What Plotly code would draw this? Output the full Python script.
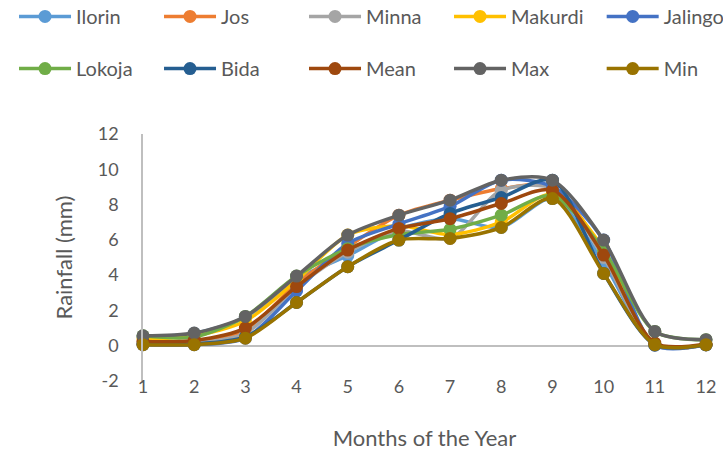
import plotly.graph_objects as go

months = [1, 2, 3, 4, 5, 6, 7, 8, 9, 10, 11, 12]
month_labels = ["1", "2", "3", "4", "5", "6", "7", "8", "9", "10", "11", "12"]
y_ticks = [-2, 0, 2, 4, 6, 8, 10, 12]
y_tick_labels = ["-2", "0", "2", "4", "6", "8", "10", "12"]

ilorin  = [0.50, 0.70, 1.60, 3.80, 5.10, 6.60, 7.20, 6.70, 8.34, 4.70, 0.05, 0.06]
jos     = [0.10, 0.20, 0.90, 3.50, 5.60, 7.40, 8.25, 8.90, 9.00, 5.30, 0.05, 0.06]
minna   = [0.20, 0.15, 0.70, 3.30, 5.30, 6.50, 6.08, 8.80, 8.90, 5.00, 0.04, 0.05]
makurdi = [0.40, 0.55, 1.40, 3.70, 6.27, 6.80, 6.30, 7.00, 8.60, 5.50, 0.05, 0.06]
jalingo = [0.06, 0.06, 0.43, 3.10, 5.80, 6.90, 7.90, 9.38, 9.00, 5.99, 0.03, 0.05]
lokoja  = [0.56, 0.50, 1.66, 3.95, 5.50, 6.30, 6.60, 7.40, 8.50, 5.40, 0.81, 0.34]
bida    = [0.10, 0.10, 0.50, 2.45, 4.48, 5.99, 7.50, 8.40, 9.38, 4.10, 0.06, 0.06]
mean_v  = [0.24, 0.30, 1.00, 3.35, 5.42, 6.65, 7.20, 8.06, 8.81, 5.14, 0.15, 0.10]
max_v   = [0.56, 0.72, 1.66, 3.95, 6.27, 7.40, 8.25, 9.38, 9.38, 5.99, 0.81, 0.34]
min_v   = [0.06, 0.06, 0.43, 2.45, 4.48, 5.99, 6.08, 6.70, 8.34, 4.10, 0.06, 0.06]

# (name, values, colour, legend id)  -- legend ids only place the legend rows
series = [
    ("Ilorin", ilorin, "#5B9BD5", "legend"),
    ("Jos", jos, "#ED7D31", "legend"),
    ("Minna", minna, "#A5A5A5", "legend"),
    ("Makurdi", makurdi, "#FFC000", "legend"),
    ("Jalingo", jalingo, "#4472C4", "legend3"),
    ("Lokoja", lokoja, "#70AD47", "legend2"),
    ("Bida", bida, "#255E91", "legend2"),
    ("Mean", mean_v, "#9E480E", "legend2"),
    ("Max", max_v, "#636363", "legend2"),
    ("Min", min_v, "#997300", "legend4"),
]

FONT = "Lato, 'Open Sans', sans-serif"
TXT = "#595959"

fig = go.Figure()
for name, vals, color, lg in series:
    fig.add_trace(go.Scatter(
        x=months, y=vals, name=name, mode="lines+markers",
        line=dict(color=color, width=3.5, shape="spline", smoothing=0.8),
        marker=dict(color=color, size=13),
        cliponaxis=False, legend=lg,
    ))

legend_common = dict(
    orientation="h", xanchor="left", yanchor="top",
    entrywidth=78, entrywidthmode="pixels",
    font=dict(family=FONT, size=20, color=TXT),
    bgcolor="rgba(0,0,0,0)", itemwidth=52,
)

X_LEFT = -0.2291
X_RIGHT = 0.8147
Y_ROW1 = 1.555
Y_ROW2 = 1.344

fig.update_layout(
    width=723, height=451,
    margin=dict(l=143, r=17, t=134, b=70, autoexpand=False),
    paper_bgcolor="white", plot_bgcolor="white",
    font=dict(family=FONT, size=18, color=TXT),
    showlegend=True,
    legend=dict(x=X_LEFT, y=Y_ROW1, **legend_common),
    legend2=dict(x=X_LEFT, y=Y_ROW2, **legend_common),
    legend3=dict(x=X_RIGHT, y=Y_ROW1, **legend_common),
    legend4=dict(x=X_RIGHT, y=Y_ROW2, **legend_common),
    xaxis=dict(
        range=[1, 12], tickmode="array", tickvals=months, ticktext=month_labels,
        showgrid=False, zeroline=False, showline=False, ticks="",
        anchor="free", position=0.03,
        tickfont=dict(family=FONT, size=18, color=TXT),
        title=dict(text="Months of the Year", standoff=38,
                   font=dict(family=FONT, size=22, color=TXT)),
    ),
    yaxis=dict(
        range=[-2, 12], tickmode="array", tickvals=y_ticks, ticktext=y_tick_labels,
        showgrid=False,
        zeroline=True, zerolinecolor="#BFBFBF", zerolinewidth=1.5,
        showline=True, linecolor="#BFBFBF", linewidth=1.5,
        ticks="outside", ticklen=19, tickcolor="rgba(0,0,0,0)",
        tickfont=dict(family=FONT, size=18, color=TXT),
        title=dict(text="Rainfall (mm)", standoff=19,
                   font=dict(family=FONT, size=22, color=TXT)),
    ),
)

fig.write_html("out.html", config={"displayModeBar": False},
               post_script="document.body.style.margin='0px';")
